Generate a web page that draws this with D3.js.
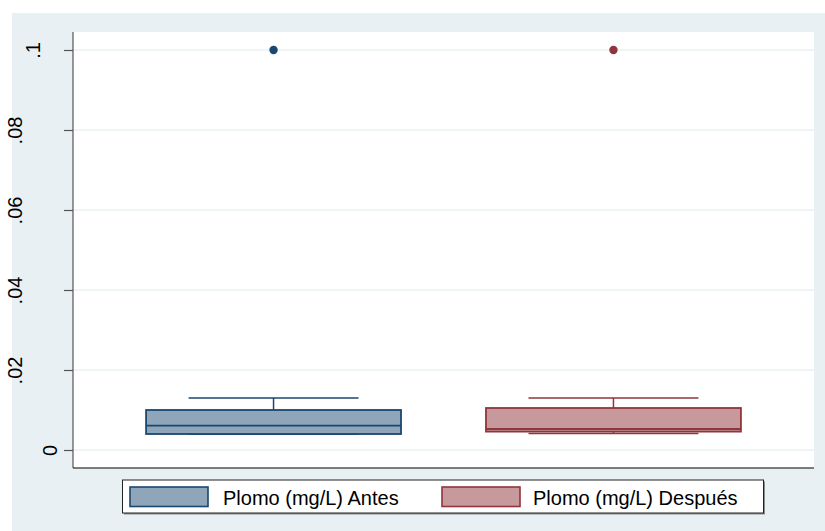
<!DOCTYPE html>
<html>
<head>
<meta charset="utf-8">
<script src="https://cdn.jsdelivr.net/npm/d3@7"></script>
<style>
  html, body { margin: 0; padding: 0; background: #ffffff; }
  svg { display: block; }
  text { font-family: "Liberation Sans", Arial, sans-serif; fill: #000; }
</style>
</head>
<body>
<svg id="chart" width="825" height="531"></svg>
<script>
// Lead concentration before and after, summarized as box plots
const groups = ["Plomo (mg/L) Antes", "Plomo (mg/L) Después"];
const lowerWhisker = [0.004, 0.0041];
const q1 = [0.004, 0.0046];
const median = [0.0061, 0.00525];
const q3 = [0.010, 0.0105];
const upperWhisker = [0.013, 0.013];
const outliers = [[0.1], [0.1]];
const yTicks = [0, 0.02, 0.04, 0.06, 0.08, 0.1];
const yTickLabels = ["0", ".02", ".04", ".06", ".08", ".1"];

const strokeColors = ["#1a476f", "#90353b"];
const fillColors = ["#8fa5b9", "#c8999c"];

const svg = d3.select("#chart");

// graph region background
svg.append("rect")
  .attr("x", 12).attr("y", 13).attr("width", 813).attr("height", 518)
  .attr("fill", "#e8f0f3");

const plot = { left: 73, right: 814, top: 32, bottom: 468 };

svg.append("rect")
  .attr("x", plot.left).attr("y", plot.top)
  .attr("width", plot.right - plot.left).attr("height", plot.bottom - plot.top)
  .attr("fill", "#ffffff");

const y = d3.scaleLinear().domain([0, 0.1]).range([450, 50]);
const x = d3.scalePoint().domain(groups).range([plot.left, plot.right]).padding(0.59);
const step = x.step();
const boxW = step * 0.75;
const capW = step * 0.5;

// gridlines
svg.append("g").selectAll("line")
  .data(yTicks)
  .join("line")
  .attr("x1", plot.left).attr("x2", plot.right)
  .attr("y1", d => y(d)).attr("y2", d => y(d))
  .attr("stroke", "#eaf2f3").attr("stroke-width", 1.5);

// y axis
const yAxis = d3.axisLeft(y)
  .tickValues(yTicks)
  .tickFormat((d, i) => yTickLabels[i])
  .tickSize(9)
  .tickPadding(0);

const gy = svg.append("g")
  .attr("transform", `translate(${plot.left},0)`)
  .call(yAxis);
gy.select(".domain")
  .attr("d", `M0,${plot.top}V${plot.bottom}`)
  .attr("stroke", "#555").attr("stroke-width", 1.2);
gy.selectAll(".tick line").attr("stroke", "#555").attr("stroke-width", 1.2);
// vertical labels; the baseline steps left with the label's character count
gy.selectAll(".tick text")
  .attr("font-size", 20)
  .attr("font-family", "'Liberation Sans', Arial, sans-serif")
  .attr("fill", "#000")
  .attr("text-anchor", "middle")
  .attr("x", 0).attr("y", 0).attr("dy", 0)
  .attr("transform", function() {
    const n = this.textContent.length;
    return `translate(${1.5 - 17.5 * n},0) rotate(-90)`;
  });

// bottom axis line
svg.append("line")
  .attr("x1", plot.left).attr("x2", plot.right)
  .attr("y1", plot.bottom).attr("y2", plot.bottom)
  .attr("stroke", "#000").attr("stroke-width", 1.2);

// boxes
const boxes = svg.append("g").selectAll("g")
  .data(groups)
  .join("g");

boxes.each(function(g, i) {
  const sel = d3.select(this);
  const cx = x(g);
  const col = strokeColors[i];
  // whiskers
  sel.append("line")
    .attr("x1", cx).attr("x2", cx)
    .attr("y1", y(q3[i])).attr("y2", y(upperWhisker[i]))
    .attr("stroke", col).attr("stroke-width", 1.5);
  sel.append("line")
    .attr("x1", cx - capW / 2).attr("x2", cx + capW / 2)
    .attr("y1", y(upperWhisker[i])).attr("y2", y(upperWhisker[i]))
    .attr("stroke", col).attr("stroke-width", 1.5);
  sel.append("line")
    .attr("x1", cx).attr("x2", cx)
    .attr("y1", y(q1[i])).attr("y2", y(lowerWhisker[i]))
    .attr("stroke", col).attr("stroke-width", 1.5);
  sel.append("line")
    .attr("x1", cx - capW / 2).attr("x2", cx + capW / 2)
    .attr("y1", y(lowerWhisker[i])).attr("y2", y(lowerWhisker[i]))
    .attr("stroke", col).attr("stroke-width", 1.5);
  // box
  sel.append("rect")
    .attr("x", cx - boxW / 2).attr("width", boxW)
    .attr("y", y(q3[i])).attr("height", y(q1[i]) - y(q3[i]))
    .attr("fill", fillColors[i]).attr("stroke", col).attr("stroke-width", 1.8);
  // median
  sel.append("line")
    .attr("x1", cx - boxW / 2).attr("x2", cx + boxW / 2)
    .attr("y1", y(median[i])).attr("y2", y(median[i]))
    .attr("stroke", col).attr("stroke-width", 1.8);
  // outliers
  sel.selectAll("circle")
    .data(outliers[i])
    .join("circle")
    .attr("cx", cx).attr("cy", d => y(d)).attr("r", 4.2)
    .attr("fill", col);
});

// legend
const legend = { x: 122.5, y: 480, w: 641, h: 33 };
svg.append("rect")
  .attr("x", legend.x + 1.5).attr("y", legend.y + 1.5)
  .attr("width", legend.w).attr("height", legend.h)
  .attr("fill", "#8c8c8c");
svg.append("rect")
  .attr("x", legend.x).attr("y", legend.y)
  .attr("width", legend.w).attr("height", legend.h)
  .attr("fill", "#ffffff").attr("stroke", "#222").attr("stroke-width", 1);

const legendItems = [
  { sx: 130, tx: 223 },
  { sx: 442, tx: 533 }
];
groups.forEach((g, i) => {
  svg.append("rect")
    .attr("x", legendItems[i].sx).attr("y", 487)
    .attr("width", 78).attr("height", 19.5)
    .attr("fill", fillColors[i]).attr("stroke", strokeColors[i]).attr("stroke-width", 1.6);
  svg.append("text")
    .attr("x", legendItems[i].tx).attr("y", 504.5)
    .attr("font-size", 20)
    .text(g);
});
</script>
</body>
</html>
